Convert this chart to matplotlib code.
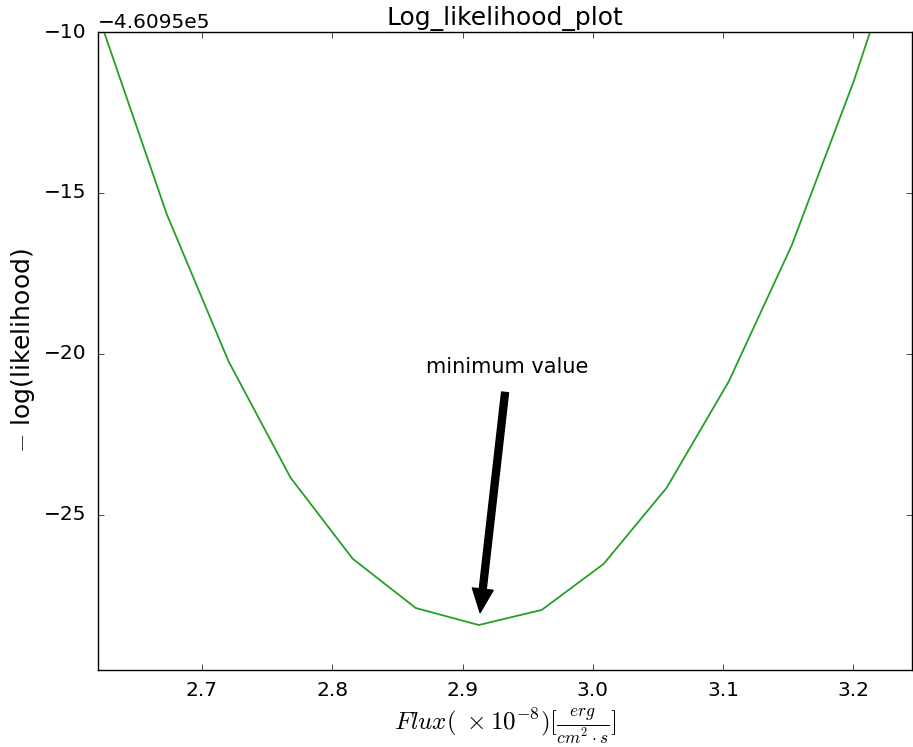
import matplotlib
matplotlib.use('Agg')
import matplotlib.pyplot as plt
from matplotlib.ticker import ScalarFormatter, MultipleLocator

# flux grid (x1e-8 erg/cm^2/s) and -log(likelihood) values
flux = [2.6245, 2.673, 2.7205, 2.768, 2.8157, 2.864, 2.9124,
        2.9608, 3.0083, 3.0567, 3.1043, 3.1526, 3.2002, 3.248]
neg_loglike = [-460959.95, -460965.66, -460970.24, -460973.85, -460976.37,
               -460977.90, -460978.43, -460977.96, -460976.53, -460974.16,
               -460970.86, -460966.63, -460961.53, -460955.70]

min_flux = 2.9124
min_val = -460978.43
offset = -460950

plt.style.use('classic')
fig = plt.figure(figsize=(9.13, 7.47), dpi=100)
fig.subplots_adjust(left=0.107, right=0.999, top=0.957, bottom=0.103)
ax = fig.add_subplot(111)

ax.plot(flux, neg_loglike, color='#24a024', lw=1.3)
ax.annotate('minimum value', xy=(min_flux, min_val),
            xytext=(2.934, offset - 20.4), ha='center', va='center',
            fontsize=15,
            arrowprops=dict(facecolor='black', shrink=0.05, width=5,
                            headwidth=15, headlength=17))

ax.set_xlim(2.62, 3.245)
ax.set_ylim(offset - 29.83, offset - 10)

fmt = ScalarFormatter(useOffset=offset)
ax.yaxis.set_major_formatter(fmt)
ax.yaxis.set_major_locator(MultipleLocator(5))
ax.xaxis.set_major_locator(MultipleLocator(0.1))
ax.tick_params(labelsize=14.5, pad=8)
ax.yaxis.get_offset_text().set_fontsize(14.5)

ax.set_title('Log_likelihood_plot', fontsize=18)
ax.set_xlabel(r'$Flux(\;\times10^{-8})[\frac{erg}{cm^2 \cdot s}]$', fontsize=18)
ax.set_ylabel('$-$ log(likelihood)', fontsize=18)

fig.savefig('out.png', dpi=100, facecolor='white')
